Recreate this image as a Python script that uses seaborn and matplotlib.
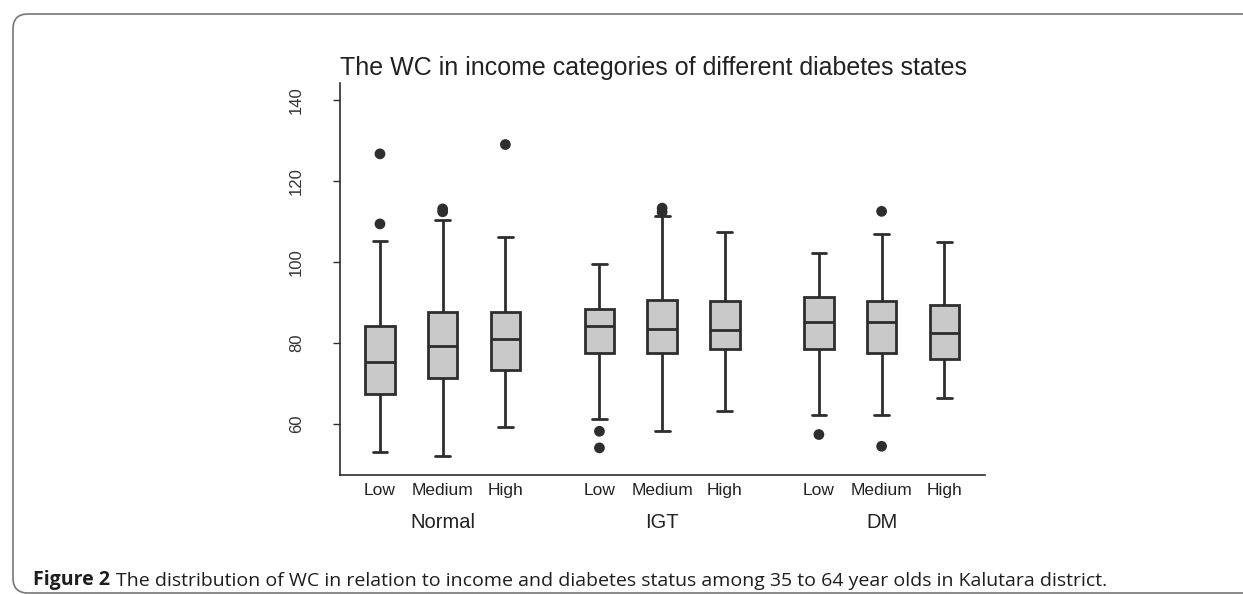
import numpy as np
import pandas as pd
import matplotlib.pyplot as plt
import seaborn as sns
from matplotlib.patches import FancyBboxPatch

# values (waist circumference, cm)
groups = ['Normal', 'IGT', 'DM']
incomes = ['Low', 'Medium', 'High']

whisker_low = [53.2, 52.2, 59.3, 61.2, 58.2, 63.3, 62.3, 62.3, 66.4]
q1 = [67.5, 71.4, 73.4, 77.5, 77.5, 78.5, 78.5, 77.5, 76.1]
median = [75.2, 79.3, 81.0, 84.3, 83.5, 83.3, 85.3, 85.3, 82.5]
q3 = [84.1, 87.6, 87.6, 88.4, 90.7, 90.3, 91.4, 90.3, 89.3]
whisker_high = [105.3, 110.4, 106.1, 99.6, 111.4, 107.3, 102.2, 107.0, 104.9]

outliers = [
    [126.7, 109.4],
    [113.1, 112.4],
    [129.0],
    [58.2, 54.1],
    [113.3, 112.3],
    [],
    [57.4],
    [112.5, 54.5],
    [],
]

# box positions: 3 per group, with a gap between groups
pos = [g * 3.5 + i + 1 for g in range(len(groups)) for i in range(len(incomes))]

rows = []
for k in range(len(pos)):
    for v in [whisker_low[k], q1[k], median[k], q3[k], whisker_high[k]]:
        rows.append({'pos': pos[k], 'wc': v})
df = pd.DataFrame(rows)

out_rows = []
for k in range(len(pos)):
    for v in outliers[k]:
        out_rows.append({'pos': pos[k], 'wc': v})
df_out = pd.DataFrame(out_rows)

sns.set_theme(style='ticks')
plt.rcParams['font.family'] = ['Liberation Sans', 'DejaVu Sans']

line_col = '#2e2e2e'

fig = plt.figure(figsize=(12.43, 5.94), dpi=100)
ax = fig.add_axes([0.2735, 0.2003, 0.519, 0.66])

sns.boxplot(data=df, x='pos', y='wc', native_scale=True, whis=(0, 100),
            width=0.47, color='#c9c9c9', linecolor=line_col, linewidth=2,
            fliersize=0, ax=ax)
sns.scatterplot(data=df_out, x='pos', y='wc', color=line_col, s=60,
                edgecolor='none', ax=ax, zorder=5)

ax.set_xlim(0.362, 10.65)
ax.set_ylim(47.4, 144.2)
ax.set_xlabel('')
ax.set_ylabel('')

ax.set_xticks(pos)
ax.set_xticklabels(incomes * len(groups), fontsize=12.5, color='#222222')
ax.tick_params(axis='x', length=0, pad=6)

ax.set_yticks([60, 80, 100, 120, 140])
ax.set_yticklabels(['60', '80', '100', '120', '140'], rotation=90, va='center',
                   fontsize=12, color='#333333')
ax.tick_params(axis='y', length=5, width=1, color=line_col, pad=21)

sns.despine(ax=ax)
for s in ['left', 'bottom']:
    ax.spines[s].set_color(line_col)
    ax.spines[s].set_linewidth(1.2)

for g, name in enumerate(groups):
    ax.text(g * 3.5 + 2, -0.12, name, transform=ax.get_xaxis_transform(),
            ha='center', va='center', fontsize=14.5, color='#222222')

fig.text(653 / 1243, 0.874, 'The WC in income categories of different diabetes states',
         ha='center', va='baseline', fontsize=18, color='#222222')

# rounded frame around the figure panel
frame = FancyBboxPatch((13 / 1243, 1 / 594), 1.2, 579 / 594,
                       boxstyle='round,pad=0,rounding_size=0.012',
                       transform=fig.transFigure, fill=False,
                       edgecolor='#777777', linewidth=1.2, clip_on=False,
                       mutation_aspect=1243 / 594)
fig.add_artist(frame)

t1 = fig.text(33 / 1243, 9 / 594, 'Figure 2', ha='left', va='baseline',
              fontsize=14, fontweight='bold', family=['Open Sans', 'DejaVu Sans'],
              color='#1e1e1e')
ax.annotate('The distribution of WC in relation to income and diabetes status among '
            '35 to 64 year olds in Kalutara district.',
            xy=(1, 0), xycoords=t1, xytext=(4, 0), textcoords='offset points',
            ha='left', va='bottom', fontsize=14, family=['Open Sans', 'DejaVu Sans'],
            color='#1e1e1e', annotation_clip=False)

fig.savefig('out.png', dpi=100)
